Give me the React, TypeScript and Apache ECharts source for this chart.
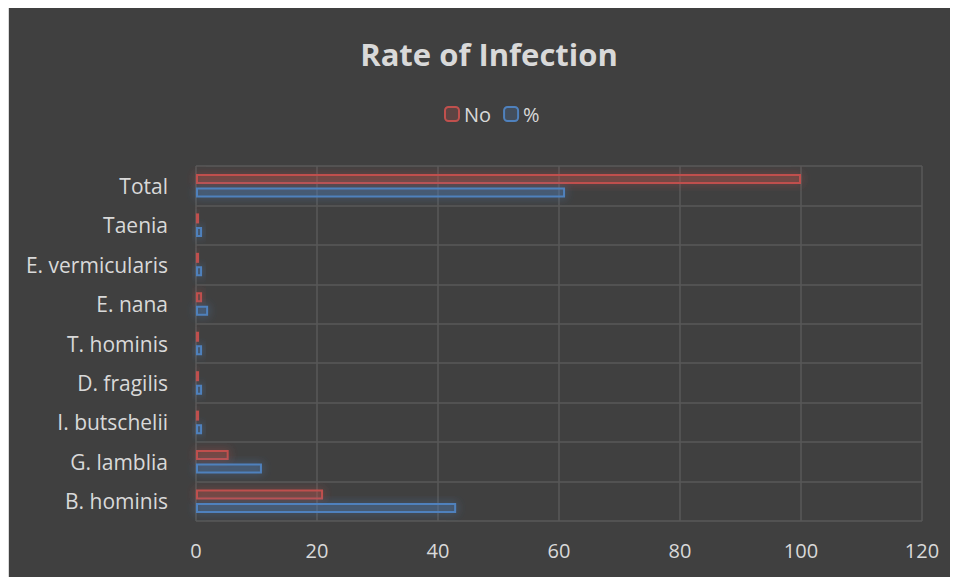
import React, { useEffect, useRef } from "react";
import * as echarts from "echarts";

const categories = [
  "B. hominis",
  "G. lamblia",
  "I. butschelii",
  "D. fragilis",
  "T. hominis",
  "E. nana",
  "E. vermicularis",
  "Taenia",
  "Total",
];
const noValues = [21, 5.4, 0.5, 0.5, 0.5, 1, 0.5, 0.5, 100];
const pctValues = [43, 10.9, 1, 1, 1, 2, 1, 1, 61];
const xTicks = { min: 0, max: 120, interval: 20 };

const FONT = "'Open Sans', 'Liberation Sans', sans-serif";
const TXT = "#d9d9d9";

export default function App() {
  const ref = useRef<HTMLDivElement>(null);
  useEffect(() => {
    if (!ref.current) return;
    document.documentElement.style.overflow = "hidden";
    document.body.style.overflow = "hidden";
    const chart = echarts.init(ref.current, undefined, { renderer: "svg" });
    chart.setOption({
      animation: false,
      backgroundColor: "#404040",
      title: {
        text: "Rate of Infection",
        left: 475,
        textAlign: "center",
        top: 26,
        textStyle: { color: TXT, fontSize: 31, fontWeight: "bold", fontFamily: FONT },
      },
      legend: {
        data: ["No", "%"],
        top: 92,
        left: 430,
        itemWidth: 14,
        itemHeight: 14,
        itemGap: 12,
        textStyle: { color: TXT, fontSize: 20, fontFamily: FONT },
      },
      grid: { left: 187, right: 56, top: 159, bottom: 75, containLabel: false },
      xAxis: {
        type: "value",
        min: xTicks.min,
        max: xTicks.max,
        interval: xTicks.interval,
        axisLine: { show: false },
        axisTick: { show: false },
        axisLabel: { color: TXT, fontSize: 20, fontFamily: FONT, margin: 19 },
        splitLine: { show: true, lineStyle: { color: "#595959", width: 1.5 } },
      },
      yAxis: {
        type: "category",
        data: categories,
        axisLine: { show: false },
        axisTick: { show: false },
        axisLabel: { color: TXT, fontSize: 21, fontFamily: FONT, margin: 28 },
        splitLine: { show: true, lineStyle: { color: "#595959", width: 1.5 } },
      },
      series: [
        {
          name: "No",
          type: "bar",
          data: noValues,
          barWidth: 10,
          barGap: "35%",
          itemStyle: {
            color: "rgba(192,80,77,0.22)",
            borderColor: "#c0504d",
            borderWidth: 2,
            shadowBlur: 10,
            shadowColor: "rgba(192,80,77,0.7)",
          },
        },
        {
          name: "%",
          type: "bar",
          data: pctValues,
          barWidth: 10,
          barGap: "35%",
          itemStyle: {
            color: "rgba(79,129,189,0.22)",
            borderColor: "#4f81bd",
            borderWidth: 2,
            shadowBlur: 10,
            shadowColor: "rgba(79,129,189,0.7)",
          },
        },
      ],
    });
    return () => chart.dispose();
  }, []);
  return (
    <div
      ref={ref}
      style={{
        width: 970,
        height: 590,
        marginTop: -2,
        boxSizing: "border-box",
        borderTop: "1px solid #d9d9d9",
        borderLeft: "1px solid #d9d9d9",
      }}
    />
  );
}
